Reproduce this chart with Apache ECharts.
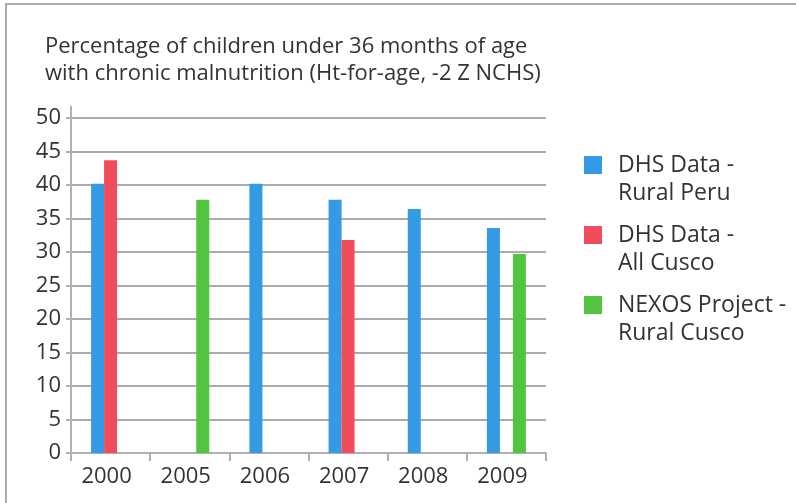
<!DOCTYPE html>
<html>
<head>
<meta charset="utf-8">
<script src="https://cdn.jsdelivr.net/npm/echarts@6/dist/echarts.min.js"></script>
<style>
html,body{margin:0;padding:0;background:#fff;}
#chart{width:796px;height:503px;}
</style>
</head>
<body>
<div id="chart"></div>
<script>
const titleLines = ["Percentage of children under 36 months of age", "with chronic malnutrition (Ht-for-age, -2 Z NCHS)"];
const categories = ["2000", "2005", "2006", "2007", "2008", "2009"];
const seriesNames = ["DHS Data -\nRural Peru", "DHS Data -\nAll Cusco", "NEXOS Project -\nRural Cusco"];
const ruralPeru = [40.2, null, 40.2, 37.8, 36.4, 33.6];
const allCusco = [43.7, null, null, 31.8, null, null];
const nexosRuralCusco = [null, 37.8, null, null, null, 29.7];
const colors = ["#349ae4", "#f04c5c", "#52c440"];
const yMin = 0, yMax = 50, yStep = 5;

const FONT = "'Open Sans', sans-serif";
const chart = echarts.init(document.getElementById('chart'), null, {renderer: 'canvas'});
const seriesData = [ruralPeru, allCusco, nexosRuralCusco];

chart.setOption({
  animation: false,
  backgroundColor: '#fff',
  textStyle: {fontFamily: FONT},
  title: {
    text: titleLines.join('\n'),
    left: 40, top: 28,
    textStyle: {fontFamily: FONT, fontSize: 22, fontWeight: 'normal', color: '#333', lineHeight: 27}
  },
  legend: {
    orient: 'vertical',
    left: 579, top: 118,
    itemWidth: 18, itemHeight: 18,
    itemGap: -14,
    icon: 'rect',
    data: seriesNames,
    formatter: n => '\n' + n,
    textStyle: {fontFamily: FONT, fontSize: 23, color: '#333', lineHeight: 28, padding: [0, 0, 0, 11]}
  },
  grid: {left: 71, right: 250, top: 118, bottom: 50, containLabel: false},
  xAxis: {
    type: 'category',
    data: categories,
    boundaryGap: true,
    axisLine: {lineStyle: {color: '#b0b0b4', width: 2}},
    axisTick: {show: true, length: 8, lineStyle: {color: '#b0b0b4', width: 2}},
    axisLabel: {fontFamily: FONT, fontSize: 22, color: '#333', margin: 13, padding: [0, 8, 0, 0]}
  },
  yAxis: {
    type: 'value',
    min: yMin, max: yMax, interval: yStep,
    axisLine: {show: true, lineStyle: {color: '#b0b0b4', width: 2}},
    axisTick: {show: true, length: 5, lineStyle: {color: '#b0b0b4', width: 2}},
    splitLine: {show: true, lineStyle: {color: '#aaaab0', width: 2}},
    axisLabel: {fontFamily: FONT, fontSize: 22, color: '#333', margin: 10}
  },
  graphic: [
    {type: 'rect', shape: {x: 6, y: 4, width: 900, height: 600}, style: {fill: 'none', stroke: '#aaaaaa', lineWidth: 2}, silent: true, z: -1},
    {type: 'line', shape: {x1: 71, y1: 106, x2: 71, y2: 118}, style: {stroke: '#b0b0b4', lineWidth: 2}, silent: true}
  ],
  series: seriesNames.map((n, i) => ({
    name: n,
    type: 'bar',
    data: seriesData[i],
    barWidth: 13,
    barGap: '0%',
    itemStyle: {color: colors[i]}
  }))
});
</script>
</body>
</html>
